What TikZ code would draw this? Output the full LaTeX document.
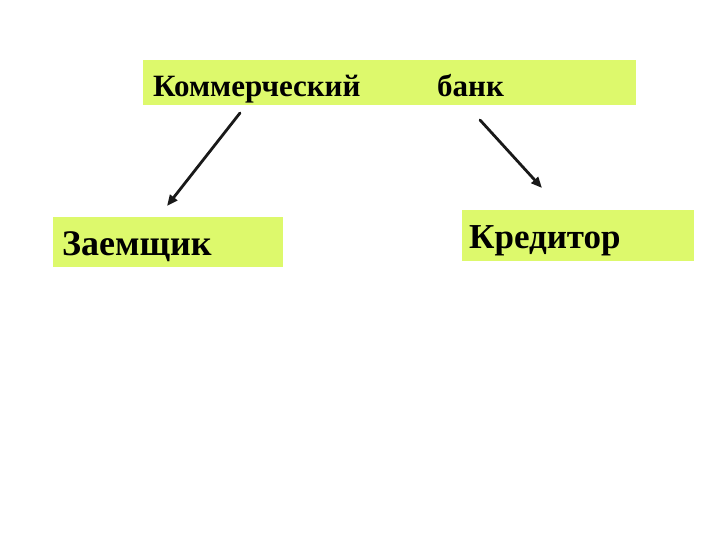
\documentclass[tikz,border=0pt]{standalone}
\usepackage{fontspec}
\setmainfont{Liberation Serif}
\usetikzlibrary{arrows.meta}
\definecolor{lime}{RGB}{221,249,108}
\tikzset{
  box/.style={fill=lime, draw=none, inner xsep=0pt, inner ysep=0pt, anchor=north west, align=left, font=\bfseries},
  arr/.style={line width=2.8pt, draw=black!90, -{Triangle[length=11pt,width=9pt]}, line cap=round}
}
\begin{document}
\begin{tikzpicture}[x=1pt,y=-1pt]
\useasboundingbox (0,0) rectangle (720,540);
\node[box, font=\bfseries\fontsize{31}{34}\selectfont, text width=493pt, text height=36pt, text depth=9pt] (bank) at (143,60)
  {\hspace*{10pt}\makebox[284pt][l]{Коммерческий}банк};
\node[box, font=\bfseries\fontsize{36}{40}\selectfont, text width=230pt, text height=38pt, text depth=12pt] (zaem) at (53,217)
  {\hspace*{9pt}Заемщик};
\node[box, font=\bfseries\fontsize{35}{40}\selectfont, text width=232pt, text height=38pt, text depth=13pt] (kred) at (462,210)
  {\hspace*{7pt}Кредитор};
\coordinate (l1) at (240,113);
\coordinate (l2) at (167,206);
\coordinate (r1) at (480,120);
\coordinate (r2) at (542,188);
\draw[arr] (l1) -- (l2);
\draw[arr] (r1) -- (r2);
\end{tikzpicture}
\end{document}
